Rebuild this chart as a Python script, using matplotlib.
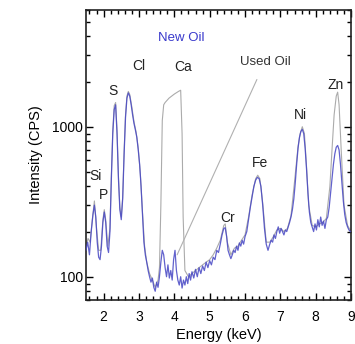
import matplotlib
matplotlib.use("Agg")
import matplotlib.pyplot as plt
from matplotlib.ticker import FixedLocator, MultipleLocator, NullFormatter

plt.rcParams["font.family"] = ["Liberation Sans", "DejaVu Sans"]

# new oil spectrum (blue)
new_energy = [
    1.50, 1.55, 1.60, 1.65, 1.70, 1.74, 1.78, 1.82, 1.86, 1.90, 1.94, 1.98,
    2.02, 2.06, 2.10, 2.14, 2.18, 2.22, 2.26, 2.30, 2.34, 2.38, 2.42, 2.46,
    2.50, 2.54, 2.58, 2.62, 2.66, 2.70, 2.74, 2.78, 2.82, 2.86, 2.90, 2.94,
    2.98, 3.02, 3.06, 3.10, 3.14, 3.18, 3.22, 3.26, 3.30, 3.34, 3.38, 3.42,
    3.46, 3.50, 3.54, 3.58, 3.62, 3.66, 3.70, 3.74, 3.78, 3.82, 3.86, 3.90,
    3.94, 3.98, 4.02, 4.06, 4.10, 4.14, 4.18, 4.22, 4.26, 4.30, 4.34, 4.38,
    4.42, 4.46, 4.50, 4.55, 4.60, 4.65, 4.70, 4.75, 4.80, 4.85, 4.90, 4.95,
    5.00, 5.05, 5.10, 5.15, 5.20, 5.25, 5.30, 5.35, 5.40, 5.44, 5.48, 5.52,
    5.56, 5.60, 5.64, 5.68, 5.72, 5.76, 5.80, 5.84, 5.88, 5.92, 5.96, 6.00,
    6.05, 6.10, 6.15, 6.20, 6.25, 6.30, 6.35, 6.40, 6.45, 6.50, 6.55, 6.60,
    6.65, 6.70, 6.74, 6.78, 6.82, 6.86, 6.90, 6.94, 6.98, 7.02, 7.06, 7.10,
    7.14, 7.18, 7.22, 7.26, 7.30, 7.34, 7.38, 7.42, 7.46, 7.50, 7.54, 7.58,
    7.62, 7.66, 7.70, 7.74, 7.78, 7.82, 7.86, 7.90, 7.94, 7.98, 8.02, 8.06,
    8.10, 8.14, 8.18, 8.22, 8.26, 8.30, 8.34, 8.38, 8.42, 8.46, 8.50, 8.54,
    8.58, 8.62, 8.66, 8.70, 8.74, 8.78, 8.82, 8.86, 8.90, 8.94, 8.98,
]
new_counts = [
    150, 170, 140, 200, 260, 300, 250, 170, 135, 130, 160, 230,
    270, 230, 160, 145, 200, 450, 900, 1300, 1400, 900, 450, 280,
    240, 330, 650, 1150, 1550, 1680, 1600, 1400, 1200, 1050, 950, 850,
    700, 560, 400, 260, 170, 140, 125, 110, 100, 92, 98, 85,
    80, 92, 85, 100, 125, 150, 140, 115, 100, 120, 98, 110,
    95, 130, 150, 110, 95, 88, 100, 84, 95, 88, 100, 90,
    105, 95, 108, 98, 112, 100, 115, 105, 118, 110, 125, 115,
    128, 120, 135, 130, 150, 145, 165, 190, 210, 212, 185, 150,
    140, 132, 140, 150, 145, 160, 150, 168, 160, 175, 165, 185,
    200, 240, 290, 340, 400, 440, 460, 450, 400, 300, 210, 165,
    150, 165, 175, 170, 190, 180, 200, 215, 195, 210, 200, 190,
    205, 200, 215, 230, 250, 280, 330, 420, 560, 720, 850, 930,
    960, 900, 720, 520, 360, 270, 230, 215, 200, 225, 205, 240,
    215, 250, 220, 235, 210, 240, 250, 290, 360, 450, 560, 660,
    730, 750, 700, 560, 420, 320, 260, 230, 215, 205, 200,
]

# used oil spectrum (gray)
used_energy = [
    1.50, 1.56, 1.62, 1.68, 1.74, 1.80, 1.86, 1.92, 1.98, 2.02, 2.06, 2.12,
    2.18, 2.22, 2.26, 2.30, 2.34, 2.38, 2.42, 2.46, 2.50, 2.54, 2.58, 2.62,
    2.66, 2.70, 2.74, 2.80, 2.86, 2.92, 2.98, 3.04, 3.10, 3.16, 3.22, 3.30,
    3.38, 3.46, 3.54, 3.58, 3.62, 3.66, 3.70, 3.74, 3.85, 4.00, 4.12, 4.18,
    4.22, 4.25, 4.30, 4.40, 4.50, 4.60, 4.70, 4.80, 4.90, 5.00, 5.10, 5.20,
    5.30, 5.40, 5.44, 5.50, 5.60, 5.70, 5.80, 5.90, 6.00, 6.10, 6.20, 6.30,
    6.36, 6.42, 6.50, 6.60, 6.70, 6.80, 6.90, 7.00, 7.10, 7.20, 7.30, 7.40,
    7.50, 7.56, 7.62, 7.68, 7.74, 7.80, 7.90, 8.00, 8.10, 8.20, 8.30, 8.40,
    8.46, 8.52, 8.58, 8.62, 8.66, 8.72, 8.80, 8.90, 9.00,
]
used_counts = [
    160, 180, 170, 240, 320, 210, 150, 150, 240, 280, 240, 160,
    210, 480, 950, 1380, 1450, 950, 470, 290, 250, 340, 680, 1200,
    1600, 1720, 1640, 1350, 1080, 920, 720, 480, 270, 160, 125, 105,
    95, 85, 95, 115, 300, 1100, 1400, 1450, 1550, 1650, 1720, 1750,
    900, 250, 110, 100, 105, 110, 115, 120, 125, 130, 140, 155,
    175, 220, 225, 170, 140, 155, 160, 175, 190, 250, 350, 450,
    475, 450, 310, 170, 170, 185, 205, 210, 200, 210, 255, 430,
    740, 900, 1000, 900, 540, 300, 220, 215, 225, 230, 245, 400,
    700, 1200, 1600, 1700, 1400, 700, 300, 220, 200,
]

peak_labels = ["Si", "P", "S", "Cl", "Ca", "Cr", "Fe", "Ni", "Zn"]
peak_label_pos = [
    (0.038, 0.427), (0.066, 0.362), (0.102, 0.721), (0.198, 0.807),
    (0.368, 0.802), (0.536, 0.283), (0.656, 0.472), (0.808, 0.638),
    (0.940, 0.742),
]

fig = plt.figure(figsize=(3.55, 3.44), dpi=100)
ax = fig.add_axes([0.242, 0.128, 0.747, 0.843])

ax.plot(used_energy, used_counts, color="#ababab", linewidth=0.8, zorder=2)
ax.plot(new_energy, new_counts, color="#4646c4", linewidth=0.9, alpha=0.85, zorder=3)

ax.set_yscale("log")
ax.set_xlim(1.5, 9.0)
ax.set_ylim(70, 6000)

ax.xaxis.set_major_locator(MultipleLocator(1))
ax.xaxis.set_minor_locator(MultipleLocator(0.2))
ax.yaxis.set_major_locator(FixedLocator([100, 1000]))
ax.set_yticklabels(["100", "1000"])
ax.yaxis.set_minor_locator(FixedLocator([70, 80, 90, 200, 300, 400, 500, 600, 700, 800, 900,
                                         2000, 3000, 4000, 5000, 6000]))
ax.yaxis.set_minor_formatter(NullFormatter())

ax.tick_params(which="both", direction="in", top=True, right=True, width=1.0, labelsize=10)
ax.tick_params(which="major", length=5)
ax.tick_params(which="minor", length=3)
ax.tick_params(axis="x", which="major", pad=7)
ax.tick_params(axis="y", which="major", pad=2)
for spine in ax.spines.values():
    spine.set_linewidth(1.2)
    spine.set_color("#222222")

ax.set_xlabel("Energy (keV)", fontsize=10.5, labelpad=3)
ax.set_ylabel("Intensity (CPS)", fontsize=10.5, labelpad=7)

for label, (tx, ty) in zip(peak_labels, peak_label_pos):
    ax.text(tx, ty, label, transform=ax.transAxes, fontsize=10, ha="center", va="center", color="#222222")

ax.text(0.358, 0.903, "New Oil", transform=ax.transAxes, fontsize=9.5, ha="center", va="center", color="#3a3acc")
ax.annotate(
    "Used Oil",
    xy=(4.08, 140),
    xytext=(0.675, 0.821),
    textcoords="axes fraction",
    fontsize=9.5,
    ha="center",
    va="center",
    color="#333333",
    arrowprops=dict(arrowstyle="-", color="#b0b0b0", linewidth=0.8, shrinkA=7, shrinkB=0),
)

fig.savefig("out.png", dpi=100)
